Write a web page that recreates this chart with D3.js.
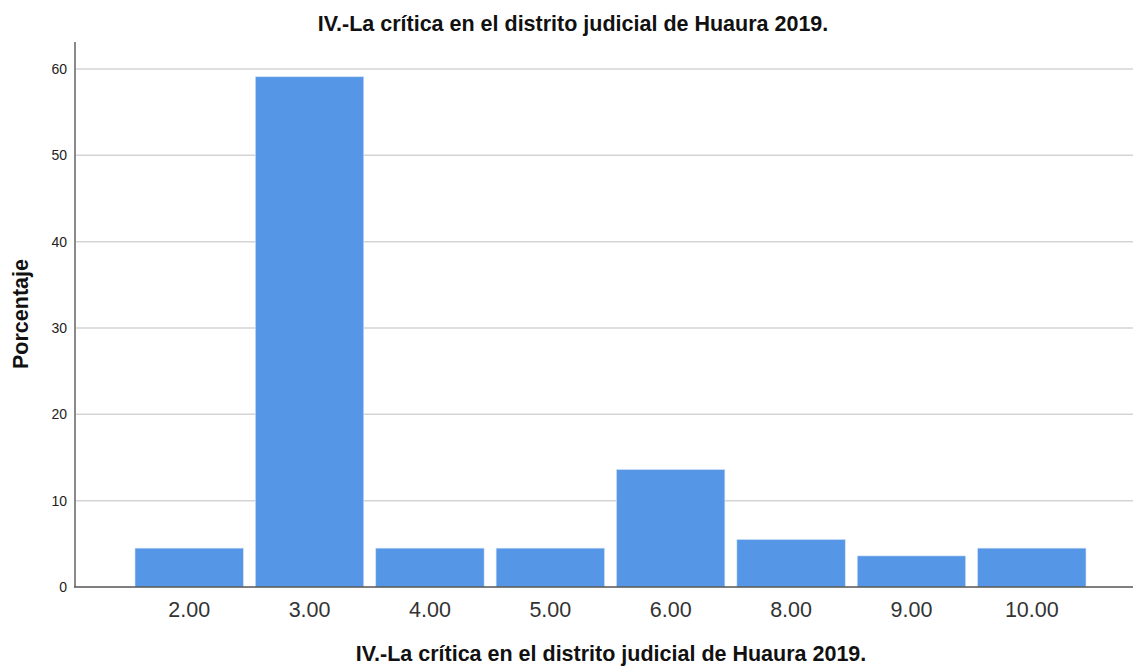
<!DOCTYPE html>
<html lang="en">
<head>
<meta charset="UTF-8">
<title>IV.-La crítica en el distrito judicial de Huaura 2019.</title>
<script src="https://d3js.org/d3.v7.min.js"></script>
<style>
body { margin: 0; background: #fff; font-family: "Liberation Sans", Arial, sans-serif; }
</style>
</head>
<body>
<svg width="1134" height="666"></svg>
<script>
// categories and percentages
const categories = ["2.00", "3.00", "4.00", "5.00", "6.00", "8.00", "9.00", "10.00"];
const percentages = [4.5, 59.1, 4.5, 4.5, 13.6, 5.5, 3.6, 4.5];
const yTicks = [0, 10, 20, 30, 40, 50, 60];
const title = "IV.-La crítica en el distrito judicial de Huaura 2019.";

const svg = d3.select("svg");
const plotLeft = 75, plotRight = 1133, plotTop = 42, plotBottom = 587;

const x = d3.scaleBand()
    .domain(categories)
    .range([129, 1092])
    .paddingInner(0.1)
    .paddingOuter(0.05);

const y = d3.scaleLinear()
    .domain([0, 60])
    .range([plotBottom, 69]);

// gridlines
svg.append("g")
  .selectAll("line")
  .data(yTicks.filter(d => d > 0))
  .enter().append("line")
    .attr("x1", plotLeft).attr("x2", plotRight)
    .attr("y1", d => y(d)).attr("y2", d => y(d))
    .attr("stroke", "#d4d4d4")
    .attr("stroke-width", 1.5);

// bars
svg.append("g")
  .selectAll("rect")
  .data(categories)
  .enter().append("rect")
    .attr("x", d => x(d))
    .attr("width", x.bandwidth())
    .attr("y", (d, i) => y(percentages[i]))
    .attr("height", (d, i) => y(0) - y(percentages[i]))
    .attr("fill", "#5596e6")
    .attr("stroke", "#cfe0f6")
    .attr("stroke-width", 0.6);

// y axis
const yAxis = svg.append("g")
    .attr("transform", "translate(" + plotLeft + ",0)")
    .call(d3.axisLeft(y).tickValues(yTicks).tickSize(0).tickPadding(8));
yAxis.select(".domain").remove();
yAxis.selectAll("text")
    .attr("font-family", "Liberation Sans, Arial, sans-serif")
    .attr("font-size", 14)
    .attr("fill", "#222");
svg.append("line")
    .attr("x1", plotLeft).attr("x2", plotLeft)
    .attr("y1", plotTop).attr("y2", plotBottom)
    .attr("stroke", "#8a8a8a")
    .attr("stroke-width", 2);

// x axis
const xAxis = svg.append("g")
    .attr("transform", "translate(0," + plotBottom + ")")
    .call(d3.axisBottom(x).tickSize(0).tickPadding(15));
xAxis.select(".domain").remove();
xAxis.selectAll("text")
    .attr("font-family", "Liberation Sans, Arial, sans-serif")
    .attr("font-size", 21.5)
    .attr("fill", "#333");
svg.append("line")
    .attr("x1", plotLeft - 1).attr("x2", plotRight)
    .attr("y1", plotBottom).attr("y2", plotBottom)
    .attr("stroke", "#555")
    .attr("stroke-width", 1.5);

// titles
svg.append("text")
    .attr("x", 573).attr("y", 31)
    .attr("text-anchor", "middle")
    .attr("font-size", 21.5).attr("font-weight", "bold")
    .attr("fill", "#111")
    .text(title);

svg.append("text")
    .attr("x", 611).attr("y", 661)
    .attr("text-anchor", "middle")
    .attr("font-size", 21.5).attr("font-weight", "bold")
    .attr("fill", "#111")
    .text(title);

svg.append("text")
    .attr("transform", "translate(28,314) rotate(-90)")
    .attr("text-anchor", "middle")
    .attr("font-size", 21.5).attr("font-weight", "bold")
    .attr("fill", "#111")
    .text("Porcentaje");
</script>
</body>
</html>
